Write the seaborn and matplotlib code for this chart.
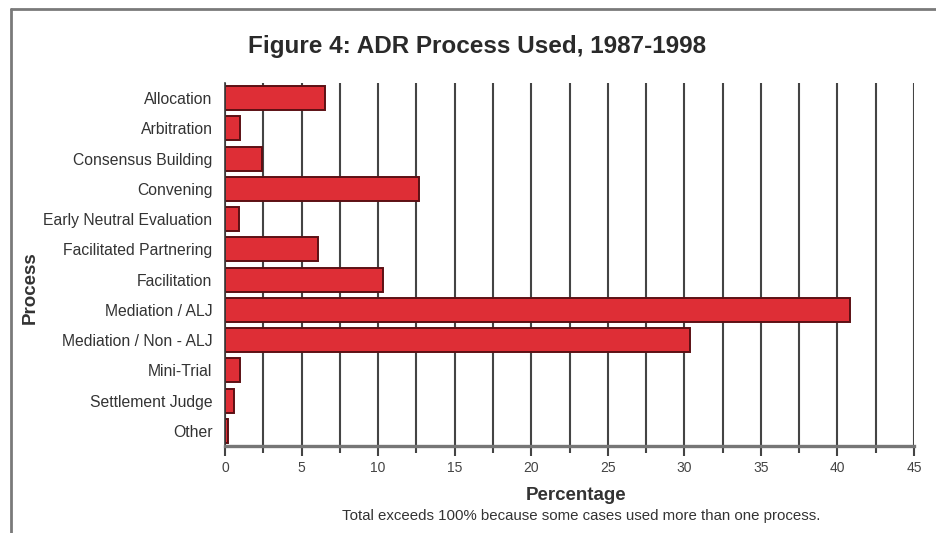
import matplotlib
matplotlib.use("Agg")
import matplotlib.pyplot as plt
from matplotlib.lines import Line2D
from matplotlib.ticker import MultipleLocator
import pandas as pd
import seaborn as sns

# ADR process usage, share of cases (%)
processes = [
    "Allocation",
    "Arbitration",
    "Consensus Building",
    "Convening",
    "Early Neutral Evaluation",
    "Facilitated Partnering",
    "Facilitation",
    "Mediation / ALJ",
    "Mediation / Non - ALJ",
    "Mini-Trial",
    "Settlement Judge",
    "Other",
]
percentages = [6.5, 1.0, 2.4, 12.7, 0.9, 6.1, 10.3, 40.8, 30.4, 1.0, 0.6, 0.2]
x_ticks = [0, 5, 10, 15, 20, 25, 30, 35, 40, 45]

title_text = "Figure 4: ADR Process Used, 1987-1998"
x_label = "Percentage"
y_label = "Process"
footnote = "Total exceeds 100% because some cases used more than one process."

df = pd.DataFrame({"Process": processes, "Percentage": percentages})

sns.set_theme(style="white")
plt.rcParams["font.family"] = ["Liberation Sans", "DejaVu Sans"]

W, H = 936, 533
fig = plt.figure(figsize=(W / 100, H / 100), dpi=100)
fig.patch.set_facecolor("white")

# axes box in pixel terms
left, right, top, bottom = 225, 914, 83, 446
ax = fig.add_axes([left / W, 1 - bottom / H, (right - left) / W, (bottom - top) / H])

grid_col = "#444444"
ax.set_axisbelow(True)
ax.xaxis.set_major_locator(MultipleLocator(5))
ax.xaxis.set_minor_locator(MultipleLocator(2.5))
ax.grid(True, axis="x", which="both", color=grid_col, linewidth=1.5)
ax.grid(False, axis="y")

sns.barplot(
    data=df, x="Percentage", y="Process", orient="h", ax=ax,
    color="#DE2E36", saturation=1, width=0.8,
    edgecolor="#5C1014", linewidth=1.4,
)

ax.set_xlim(0, 45)
ax.set_ylim(11.5, -0.5)
ax.set_xticks(x_ticks)
ax.set_xticklabels([str(t) for t in x_ticks])

for side in ("top", "right"):
    ax.spines[side].set_visible(False)
ax.spines["bottom"].set_color("#767676")
ax.spines["bottom"].set_linewidth(2.4)
ax.spines["left"].set_color("#3a3a3a")
ax.spines["left"].set_linewidth(1.2)

ax.tick_params(axis="x", which="major", length=7, width=1.5, color=grid_col,
               labelsize=10, labelcolor="#444444", pad=4, bottom=True)
ax.tick_params(axis="x", which="minor", length=5, width=1.5, color=grid_col, bottom=True)
ax.tick_params(axis="y", length=0, pad=9, labelsize=11.3, labelcolor="#333333")

ax.set_xlabel(x_label, fontsize=13.5, fontweight="bold", color="#333333", va="center")
ax.xaxis.set_label_coords((576 - left) / (right - left), (bottom - 495) / (bottom - top))
ax.set_ylabel(y_label, fontsize=13.5, fontweight="bold", color="#333333", va="center")
ax.yaxis.set_label_coords((30 - left) / (right - left), (bottom - 288) / (bottom - top))

fig.text(477 / W, 1 - 46 / H, title_text, ha="center", va="center",
         fontsize=17.5, fontweight="bold", color="#2a2a2a")
fig.text(581 / W, 1 - 516 / H, footnote, ha="center", va="center",
         fontsize=10.8, color="#333333")

# frame along the top and left edges of the figure
fig.add_artist(Line2D([11 / W, 1.0], [1 - 9 / H, 1 - 9 / H], color="#7a7a7a",
                      linewidth=2.0, transform=fig.transFigure))
fig.add_artist(Line2D([11 / W, 11 / W], [0.0, 1 - 9 / H], color="#7a7a7a",
                      linewidth=2.0, transform=fig.transFigure))

fig.savefig("out.png", dpi=100)
